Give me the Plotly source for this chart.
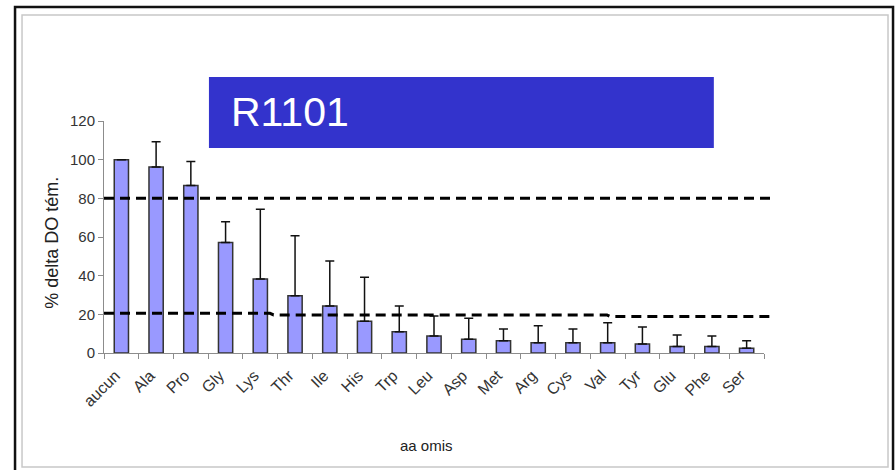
import plotly.graph_objects as go

categories = ["aucun", "Ala", "Pro", "Gly", "Lys", "Thr", "Ile", "His", "Trp", "Leu",
              "Asp", "Met", "Arg", "Cys", "Val", "Tyr", "Glu", "Phe", "Ser"]
values = [100, 96.2, 86.6, 57.1, 38.3, 29.6, 24.3, 16.4, 11.0, 8.8,
          7.1, 6.4, 5.3, 5.3, 5.3, 4.7, 3.3, 3.3, 2.4]
errors_plus = [0, 13.1, 12.4, 10.8, 36.0, 31.1, 23.3, 22.8, 13.3, 10.3,
               10.9, 6.0, 8.8, 7.1, 10.4, 8.7, 6.0, 5.5, 4.0]
upper_threshold = 80
lower_threshold_steps = [20.5, 19.7, 18.9]
y_ticks = [0, 20, 40, 60, 80, 100, 120]
title_text = "R1101"
y_title = "% delta DO tém."
x_title = "aa omis"

FONT = "Liberation Sans, Arial, sans-serif"

fig = go.Figure()
fig.add_trace(go.Bar(
    x=categories, y=values, width=0.41,
    marker=dict(color="#9999FF", line=dict(color="#333333", width=1.5)),
    error_y=dict(type="data", symmetric=False, array=errors_plus,
                 arrayminus=[0] * len(values), color="#111111",
                 thickness=1.5, width=4.5),
    hoverinfo="skip",
))

shapes = []
# upper dashed line
shapes.append(dict(type="line", xref="paper", yref="y", x0=0, x1=1.0167,
                   y0=upper_threshold, y1=upper_threshold,
                   line=dict(color="black", width=3, dash="10px,6px"), layer="above"))
# lower dashed line with small jogs
l = lower_threshold_steps
path = (f"M 0,{l[0]} L 0.2515,{l[0]} L 0.257,{l[1]} L 0.762,{l[1]} "
        f"L 0.767,{l[2]} L 1.0167,{l[2]}")
shapes.append(dict(type="path", xref="paper", yref="y", path=path,
                   line=dict(color="black", width=3, dash="10px,6px"), layer="above"))
# title box
shapes.append(dict(type="rect", xref="paper", yref="paper", x0=0.159, x1=0.924,
                   y0=0.884, y1=1.19, fillcolor="#3333CC", line=dict(width=0)))
# frames
shapes.append(dict(type="rect", xref="paper", yref="paper", x0=-0.1348, x1=1.1955,
                   y0=-0.52, y1=1.4914, line=dict(color="#111111", width=2.5)))
shapes.append(dict(type="rect", xref="paper", yref="paper", x0=-0.1242, x1=1.1879,
                   y0=-0.4914, y1=1.4569, line=dict(color="#c8c8c8", width=1.5)))

annotations = [
    dict(text=title_text, xref="paper", yref="paper", x=0.189, y=1.04,
         xanchor="left", yanchor="middle", showarrow=False,
         font=dict(family=FONT, size=41, color="white")),
    dict(text=x_title, xref="paper", yref="paper", x=0.489, y=-0.397,
         xanchor="center", yanchor="middle", showarrow=False,
         font=dict(family=FONT, size=15, color="#222222")),
    dict(text=y_title, xref="paper", yref="paper", x=-0.0788, y=0.475,
         xanchor="center", yanchor="middle", showarrow=False, textangle=-90,
         font=dict(family=FONT, size=18, color="#222222")),
]

fig.update_layout(
    width=895, height=470,
    margin=dict(l=104, r=131, t=121, b=117, autoexpand=False),
    paper_bgcolor="white", plot_bgcolor="white",
    showlegend=False, hovermode=False,
    shapes=shapes, annotations=annotations,
    font=dict(family=FONT, size=15, color="#333333"),
    xaxis=dict(range=[-0.5, 18.5], showline=True, linecolor="#8c8c8c", linewidth=1,
               ticks="outside", tickson="boundaries", ticklen=5, tickcolor="#8c8c8c",
               tickangle=-45, showgrid=False, zeroline=False, automargin=False,
               ticklabelstandoff=6, ticklabelshift=-6,
               tickfont=dict(family=FONT, size=16, color="#333333")),
    yaxis=dict(range=[0, 120], tickvals=y_ticks, showline=True, linecolor="#8c8c8c",
               linewidth=1, ticks="outside", ticklen=5, tickcolor="#8c8c8c",
               showgrid=False, zeroline=False, automargin=False,
               tickfont=dict(family=FONT, size=15, color="#333333")),
)

fig.write_html("out.html", config={"displayModeBar": False, "staticPlot": True},
               post_script="document.body.style.margin='0';document.body.style.overflow='hidden';")
